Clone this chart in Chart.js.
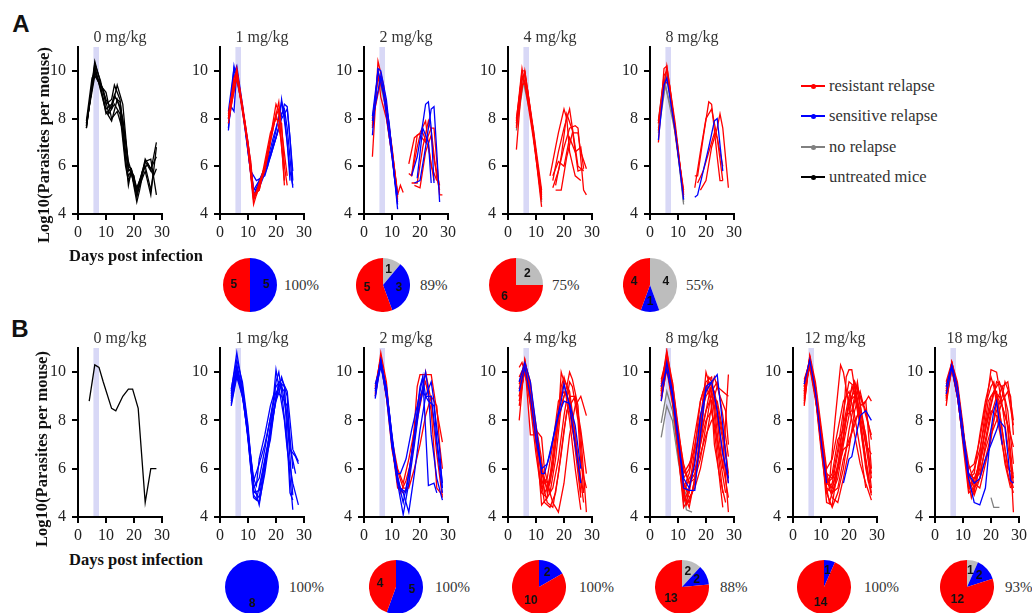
<!DOCTYPE html>
<html>
<head>
<meta charset="UTF-8">
<title>Parasite load and relapse by dose</title>
<script src="https://cdn.jsdelivr.net/npm/chart.js"></script>
<style>
  body { margin: 0; background: #fff; }
  #fig { position: relative; width: 1032px; height: 613px; overflow: hidden; font-family: 'Liberation Serif', serif; }
  #fig canvas { position: absolute; }
  .txt { position: absolute; white-space: nowrap; color: #333; font-size: 15px; line-height: 1; }
  .bold { font-weight: bold; color: #111; font-size: 16.5px; }
  .letter { font-family: 'Liberation Sans', Arial, sans-serif; font-weight: bold; font-size: 24px; color: #111; }
  .leg { position: absolute; left: 801px; height: 18px; display: flex; align-items: center; font-size: 16.5px; color: #333; white-space: nowrap; }
  .leg .ln { position: relative; width: 24px; height: 1.6px; margin-right: 4px; }
  .leg .dot { position: absolute; left: 10px; top: -1.7px; width: 5px; height: 5px; border-radius: 50%; }
</style>
</head>
<body>
<div id="fig"></div>
<script>
// ---- data (day, log10 parasites); null = below detection ----
const xTicks = [0, 10, 20, 30];
const yTicks = [4, 6, 8, 10];
const dosingWindow = [5.5, 7.5];
const doseLabelsA = ['0 mg/kg', '1 mg/kg', '2 mg/kg', '4 mg/kg', '8 mg/kg'];
const doseLabelsB = ['0 mg/kg', '1 mg/kg', '2 mg/kg', '4 mg/kg', '8 mg/kg', '12 mg/kg', '18 mg/kg'];
const legendLabels = ['resistant relapse', 'sensitive relapse', 'no relapse', 'untreated mice'];

// pie counts: [no relapse, sensitive relapse, resistant relapse]
const pieCountsA = [[0, 5, 5], [1, 3, 5], [2, 0, 6], [4, 1, 4]];
const relapsePctA = ['100%', '89%', '75%', '55%'];
const pieCountsB = [[0, 8, 0], [0, 5, 4], [0, 2, 10], [2, 2, 13], [0, 1, 14], [1, 2, 12]];
const relapsePctB = ['100%', '100%', '100%', '88%', '100%', '93%'];

// Row A
const A0_untreated = [
  [[3,7.6],[6,10.3],[8,9.6],[10,8.6],[12,8.8],[13,9.4],[15,8.8],[17,6.6],[18,5.8],[19,5.9],[21,5.0],[22,5.4],[24,6.2],[26,5.8],[28,7.0]],
  [[3,7.8],[6,10.0],[8,9.3],[10,8.4],[12,8.6],[13,9.0],[15,8.5],[17,6.2],[18,5.6],[19,5.8],[21,4.5],[22,5.0],[24,6.2],[26,6.3],[28,4.8]],
  [[3,7.7],[6,10.1],[7,9.7],[9,9.2],[11,8.2],[13,8.6],[15,8.2],[17,6.0],[18,5.4],[19,5.7],[21,4.9],[24,5.8],[26,4.8],[28,6.8]],
  [[3,7.9],[5,9.7],[6,9.9],[8,9.4],[10,9.1],[12,8.0],[14,8.3],[16,7.5],[18,5.2],[19,5.8],[21,4.7],[24,6.3],[26,5.9],[28,6.4]],
  [[3,7.6],[6,10.4],[8,9.5],[10,8.8],[12,8.4],[14,9.4],[16,8.6],[18,6.0],[19,5.9],[21,5.1],[24,6.0],[26,5.0],[27,5.8]],
  [[3,7.8],[6,9.8],[8,9.4],[10,8.2],[12,8.5],[13,8.9],[15,8.7],[17,7.0],[18,5.9],[20,5.6],[21,4.8],[23,5.8],[25,6.1],[27,5.6],[28,5.9]],
  [[3,7.7],[6,10.2],[8,9.2],[10,8.3],[12,7.9],[14,8.8],[16,8.0],[18,6.2],[19,5.8]]
];
const A1_resistant = [
  [[3,8.0],[5,9.7],[6,10.0],[8,8.6],[10,7.0],[11,6.0],[12,4.6],[13,4.9],[14,5.0],[16,6.0],[18,7.2],[20,8.6],[21,8.3],[23,5.4]],
  [[3,8.2],[5,9.5],[6,9.8],[8,8.3],[10,6.8],[12,4.4],[14,5.2],[16,5.8],[18,7.0],[20,8.2],[22,7.0],[23,5.2]],
  [[3,7.8],[6,9.9],[8,8.5],[10,6.9],[12,4.9],[13,4.8],[15,5.6],[17,6.4],[19,7.8],[21,8.4],[22,6.8],[24,5.2]],
  [[3,8.1],[6,10.1],[8,8.4],[11,6.2],[12,4.8],[14,5.0],[16,6.2],[18,7.4],[20,8.0],[22,7.8],[23,6.0]],
  [[3,8.0],[6,9.7],[9,7.8],[12,4.6],[14,5.3],[16,6.0],[19,7.6],[21,8.7],[22,7.5],[24,5.6]]
];
const A1_sensitive = [
  [[3,7.5],[5,10.2],[6,9.6],[8,8.5],[10,6.8],[12,5.0],[14,5.1],[17,6.0],[20,7.5],[22,8.7],[23,8.2],[25,5.8],[26,5.2]],
  [[3,7.8],[4,8.5],[5,8.3],[6,10.0],[8,8.4],[10,6.6],[12,4.8],[14,5.3],[16,5.8],[19,7.2],[21,8.0],[23,8.4],[24,7.6],[26,5.1]],
  [[3,8.3],[5,10.1],[7,9.2],[10,7.0],[12,5.0],[15,5.6],[18,6.4],[21,7.6],[22,8.8],[24,7.0],[25,5.4]],
  [[3,7.6],[5,9.8],[6,9.9],[9,7.6],[12,4.7],[14,5.4],[17,6.2],[20,7.2],[23,8.6],[24,8.5],[26,5.8]],
  [[3,8.0],[5,9.9],[6,10.2],[8,8.6],[11,5.8],[13,5.4],[16,5.6],[19,6.8],[22,8.0],[24,8.4],[25,7.2],[26,5.4]]
];
const A2_resistant = [
  [[3,6.4],[5,10.4],[7,9.4],[10,6.6],[12,4.8],[13,5.2],[14,4.9],[15,null],[17,5.6],[19,6.8],[20,7.3],[22,7.0],[24,7.6],[25,7.6],[27,4.8],[28,4.8]],
  [[3,7.6],[5,9.9],[6,8.9],[8,8.0],[10,6.5],[12,4.5],[14,null],[16,5.7],[17,5.6],[19,7.3],[21,7.4],[23,6.8],[25,5.4]],
  [[3,8.0],[5,9.7],[7,9.2],[10,6.8],[12,4.7],[15,null],[17,5.3],[19,5.3],[21,6.8],[23,7.9],[24,7.5],[26,5.5],[27,5.0]],
  [[3,7.9],[6,9.6],[8,8.6],[10,6.7],[12,4.9],[15,null],[18,5.2],[20,5.1],[22,6.6],[24,7.3],[25,6.3],[27,5.2]],
  [[3,7.7],[5,10.0],[7,9.0],[10,6.4],[12,4.6],[15,null],[16,6.1],[18,7.2],[20,7.4],[22,7.9],[24,6.0],[26,5.4]]
];
const A2_sensitive = [
  [[3,7.3],[5,10.1],[6,10.0],[8,8.8],[10,6.6],[12,4.2],[15,null],[17,5.6],[19,6.4],[21,7.8],[22,8.6],[23,8.7],[24,7.6],[25,5.3]],
  [[3,8.1],[5,10.0],[7,9.0],[10,6.4],[12,4.4],[15,null],[18,5.3],[20,5.4],[22,6.8],[24,8.4],[25,8.5],[26,6.6],[27,4.5]],
  [[3,7.9],[6,9.8],[9,7.8],[11,5.4],[12,4.8],[15,null],[19,5.5],[21,7.6],[23,7.0],[24,5.3]]
];
const A2_noRelapse = [
  [[3,7.8],[5,9.8],[8,8.4],[10,6.7],[12,4.8]]
];
const A3_resistant = [
  [[3,7.6],[5,10.0],[6,10.0],[9,7.6],[12,5.0],[14,null],[15,5.6],[17,6.8],[18,7.4],[20,8.4],[21,8.0],[22,6.6],[24,5.6],[26,5.4]],
  [[3,6.7],[5,9.6],[6,9.9],[9,7.4],[12,4.3],[14,null],[16,5.4],[18,6.6],[20,7.6],[22,8.4],[23,7.6],[25,6.0],[27,5.8]],
  [[3,8.0],[5,9.8],[7,9.2],[10,6.5],[12,4.8],[14,null],[16,5.1],[18,5.8],[20,6.8],[22,7.6],[24,7.7],[25,7.6],[27,5.0],[28,4.8]],
  [[3,7.8],[5,9.4],[6,9.5],[9,7.2],[12,4.6],[14,null],[17,5.0],[19,5.0],[21,6.4],[23,7.4],[25,7.4],[26,6.6],[28,5.9]],
  [[3,7.9],[5,10.1],[8,8.2],[11,5.6],[12,4.9],[14,null],[16,5.6],[18,6.2],[20,6.0],[22,7.2],[24,6.6],[26,6.8],[27,5.9]],
  [[3,7.7],[6,10.0],[9,7.5],[12,4.7],[14,null],[17,5.2],[19,6.4],[21,8.2],[23,7.5],[25,5.8],[27,5.9]]
];
const A3_noRelapse = [
  [[3,7.8],[5,9.8],[9,7.6],[12,4.5]],
  [[3,7.5],[6,9.9],[9,7.4],[12,4.6]]
];
const A4_resistant = [
  [[3,7.0],[5,10.1],[6,10.2],[9,7.6],[12,4.8],[14,null],[16,5.6],[17,5.6],[19,7.2],[21,8.7],[22,8.6],[24,6.4],[25,5.4],[26,5.4]],
  [[3,7.9],[5,9.8],[6,10.0],[9,7.4],[12,4.9],[14,null],[16,5.1],[18,6.6],[20,8.0],[22,8.4],[24,7.2],[26,5.4]],
  [[3,7.5],[6,10.2],[9,7.8],[12,4.7],[14,null],[18,5.0],[20,5.4],[22,6.8],[24,7.6],[25,8.2],[26,7.6],[28,5.1]],
  [[3,7.8],[5,9.6],[7,9.4],[10,6.6],[12,5.0],[14,null],[17,5.3],[19,5.8],[21,6.6],[23,7.4],[24,7.2],[26,6.0]]
];
const A4_sensitive = [
  [[3,7.1],[5,9.4],[6,9.7],[9,7.5],[12,4.6],[14,null],[16,4.7],[17,4.8],[19,5.8],[21,6.8],[23,7.9],[24,8.0],[26,5.8]]
];
const A4_noRelapse = [
  [[3,7.6],[6,9.9],[9,7.6],[12,4.4]],
  [[3,7.8],[5,9.6],[8,8.2],[11,5.6],[12,4.6]],
  [[3,7.4],[6,9.8],[10,6.8],[12,4.5]],
  [[3,7.9],[5,9.7],[9,7.4],[12,4.8]]
];

// Row B
const B0_untreated = [
  [[4,8.8],[6,10.3],[7.5,10.2],[9,9.6],[12,8.5],[13.5,8.4],[16,9.0],[18,9.3],[19.5,9.3],[21.5,8.5],[24,4.6],[26,6.0],[28,6.0]]
];
const B1_sensitive = [
  [[4,9.2],[6,10.8],[8,9.4],[10,7.6],[12,5.4],[14,4.5],[16,6.0],[18,7.8],[20,9.6],[21,10.0],[22,9.2],[24,7.0],[26,4.3]],
  [[4,8.6],[6,9.8],[8,9.0],[10,7.4],[12,5.6],[13,5.3],[14,6.4],[16,7.4],[18,8.6],[20,9.4],[22,9.7],[24,9.2],[26,6.8],[28,6.3]],
  [[4,9.0],[6,10.2],[8,9.2],[10,7.2],[12,4.9],[14,4.6],[16,5.8],[18,7.4],[20,8.9],[21,9.6],[23,9.4],[25,5.0],[26,4.7]],
  [[4,8.8],[6,10.0],[9,8.6],[11,6.0],[12,5.2],[14,5.6],[16,6.8],[19,8.8],[20,10.1],[21,9.4],[23,8.0],[24,6.8],[26,5.4],[28,4.5]],
  [[4,9.3],[6,10.5],[8,9.6],[10,7.8],[12,5.0],[14,5.1],[17,6.9],[19,8.4],[22,9.8],[24,9.0],[25,6.8],[27,6.5],[28,6.2]],
  [[4,8.7],[6,9.9],[8,9.1],[11,6.4],[12,5.5],[14,6.2],[16,7.0],[18,8.1],[20,9.2],[22,9.0],[24,8.6],[26,6.0]],
  [[4,9.1],[6,10.3],[8,9.3],[10,7.5],[12,4.8],[13,4.7],[15,5.8],[18,7.6],[20,8.8],[22,9.5],[24,8.0],[26,4.9]],
  [[4,8.9],[6,10.1],[9,8.4],[12,5.1],[14,4.8],[16,6.2],[18,7.2],[20,9.0],[21,9.5],[23,9.2],[25,6.9],[27,5.8]]
];
const B2_resistant = [
  [[4,9.1],[6,10.8],[8,9.6],[10,7.0],[12,5.2],[14,5.0],[16,5.3],[18,7.8],[19,9.4],[20,9.9],[22,9.9],[24,9.9],[26,8.4],[28,7.1]],
  [[4,9.3],[6,10.6],[8,9.0],[10,6.8],[12,5.6],[13,5.0],[15,5.5],[17,6.4],[19,8.0],[21,9.2],[22,10.0],[24,8.8],[26,6.6],[28,4.8]],
  [[4,9.0],[6,10.4],[9,8.2],[11,6.4],[12,5.9],[14,5.2],[16,5.2],[18,6.0],[20,7.0],[22,8.2],[24,9.0],[26,8.6],[27,7.0],[28,6.0]],
  [[4,9.4],[6,10.6],[8,9.4],[10,7.2],[12,6.0],[14,5.4],[16,6.4],[18,7.6],[20,9.0],[22,9.6],[24,8.4],[26,5.2],[28,4.9]]
];
const B2_sensitive = [
  [[4,9.2],[6,10.5],[8,9.2],[10,7.0],[12,5.4],[14,4.1],[16,5.4],[18,7.0],[20,8.8],[22,10.0],[23,9.2],[24,7.4],[26,5.6],[28,4.7]],
  [[4,8.9],[6,10.4],[8,9.0],[10,6.9],[12,5.8],[13,5.8],[15,6.4],[17,7.6],[19,8.6],[21,9.8],[22,7.6],[23,5.3],[25,5.4],[26,5.0]],
  [[4,9.5],[6,10.3],[9,8.4],[11,6.2],[12,5.4],[14,5.0],[16,4.2],[18,5.8],[20,7.6],[22,9.0],[24,9.6],[25,8.8],[26,7.2],[28,5.4]],
  [[4,9.0],[6,10.5],[8,9.3],[10,7.4],[12,5.6],[14,4.6],[16,5.8],[18,7.4],[20,9.4],[21,9.8],[22,9.0],[24,9.0],[26,7.0],[28,5.0]],
  [[4,9.3],[6,10.2],[8,9.4],[11,6.2],[13,5.2],[15,5.0],[17,6.6],[19,8.2],[21,9.2],[23,8.8],[25,8.6],[27,6.8],[28,5.2]]
];
const B3_resistant = [
  [[4,8.0],[6,10.5],[8,9.2],[10,7.4],[12,6.2],[14,5.0],[16,6.0],[18,8.0],[19,10.0],[20,9.6],[22,8.0],[24,6.0],[26,4.3]],
  [[4,9.0],[6,10.4],[8,7.4],[10,7.4],[12,4.5],[14,4.8],[16,6.6],[18,8.4],[20,9.7],[22,9.2],[24,7.4],[26,5.0]],
  [[4,9.6],[6,10.3],[8,9.0],[10,7.6],[12,7.3],[13,6.0],[15,5.0],[17,6.4],[19,8.6],[21,9.4],[22,10.0],[23,9.7],[25,8.6],[27,5.0]],
  [[4,8.6],[6,10.2],[9,8.4],[11,6.8],[12,5.6],[14,4.6],[16,4.4],[18,5.8],[20,7.6],[22,9.0],[24,9.0],[26,7.4],[28,4.2]],
  [[4,10.2],[5,10.4],[6,10.0],[8,8.8],[10,7.2],[12,5.8],[14,5.4],[16,4.6],[18,4.2],[20,5.4],[22,7.4],[24,8.6],[26,9.0],[28,8.2]],
  [[4,9.3],[6,10.5],[8,9.4],[10,7.8],[12,6.4],[13,5.0],[15,5.4],[17,7.2],[19,9.4],[20,9.8],[22,9.0],[24,6.8],[26,4.8]],
  [[4,8.8],[6,10.1],[9,8.0],[11,6.0],[12,5.2],[14,5.6],[16,7.0],[18,8.8],[20,9.2],[22,8.8],[24,7.4],[26,5.6],[27,5.0]],
  [[4,9.8],[6,10.3],[8,8.6],[10,6.6],[12,5.0],[14,4.8],[16,5.2],[18,6.4],[20,8.2],[22,9.6],[23,9.4],[25,8.0],[26,6.2],[28,5.2]],
  [[4,9.0],[6,10.0],[8,9.0],[11,7.0],[12,5.4],[13,4.6],[15,4.4],[17,5.0],[19,6.6],[21,8.4],[23,8.8],[24,9.0],[26,7.6],[28,5.8]],
  [[4,9.5],[6,10.4],[8,9.6],[10,7.4],[12,5.8],[14,5.2],[16,6.2],[18,8.0],[20,9.0],[21,9.2],[23,7.6],[25,6.4],[27,4.6]]
];
const B3_sensitive = [
  [[4,9.6],[6,10.4],[8,9.6],[10,7.8],[12,5.8],[13,5.8],[15,6.6],[17,7.8],[19,8.8],[20,9.5],[22,8.6],[24,7.0],[26,5.4]],
  [[4,9.2],[6,10.2],[8,9.0],[10,7.2],[12,6.0],[14,6.2],[16,7.2],[18,8.2],[20,8.8],[22,8.7],[24,7.8],[26,6.0]]
];
const B4_resistant = [
  [[4,9.4],[6,10.9],[8,9.4],[10,7.4],[12,5.0],[14,4.4],[16,5.6],[18,7.6],[20,10.0],[21,9.6],[23,8.6],[25,6.4],[27,5.0]],
  [[4,9.0],[6,10.6],[8,9.2],[10,7.0],[12,4.6],[14,5.2],[16,6.8],[18,8.8],[20,9.6],[22,9.8],[24,8.0],[26,6.0],[28,9.9]],
  [[4,9.6],[6,10.4],[9,8.6],[11,6.4],[12,5.6],[14,6.0],[16,7.4],[18,8.8],[19,9.2],[21,9.4],[23,7.6],[25,5.4],[26,4.4]],
  [[4,9.2],[6,10.7],[8,9.0],[10,6.8],[12,4.4],[13,4.6],[15,5.8],[17,7.0],[19,8.6],[21,9.8],[22,9.6],[24,8.4],[26,7.2],[28,4.2]],
  [[4,8.8],[6,10.2],[8,9.6],[10,7.8],[12,6.0],[14,5.4],[16,5.6],[18,6.4],[20,7.8],[22,9.2],[24,9.6],[26,8.2],[28,6.5]],
  [[4,9.5],[6,10.5],[8,9.2],[11,6.6],[12,5.4],[14,4.8],[16,5.2],[18,6.0],[20,7.2],[22,8.6],[24,9.4],[26,9.2],[28,9.0]],
  [[4,9.1],[6,10.3],[8,8.8],[10,7.0],[12,5.2],[14,5.8],[16,7.0],[18,8.2],[20,9.0],[22,9.4],[24,7.0],[26,5.0]],
  [[4,9.3],[6,10.8],[8,9.6],[10,7.6],[12,5.8],[14,6.2],[16,6.8],[18,7.4],[20,8.4],[22,9.0],[24,8.8],[26,7.6],[28,5.8]],
  [[4,8.9],[6,10.1],[9,8.0],[11,5.6],[12,4.8],[14,4.6],[16,5.4],[18,7.2],[20,9.4],[22,8.8],[23,7.0],[25,5.6],[27,4.6]],
  [[4,9.7],[6,10.6],[8,9.4],[10,7.2],[12,5.4],[14,5.0],[16,6.4],[18,8.0],[19,9.0],[21,9.6],[23,9.2],[25,8.0],[27,6.8],[28,5.6]],
  [[4,9.0],[6,10.4],[8,9.0],[10,6.8],[12,5.0],[14,5.6],[16,6.0],[18,6.6],[20,7.4],[22,8.0],[24,8.2],[26,6.6],[28,5.4]],
  [[4,9.4],[6,10.2],[8,9.2],[10,7.6],[12,6.2],[14,5.4],[16,5.8],[18,7.0],[20,8.0],[22,8.4],[24,7.2],[26,6.2],[28,4.8]],
  [[4,9.2],[6,10.6],[8,9.0],[10,7.2],[12,5.2],[13,4.5],[15,5.0],[17,6.2],[19,7.8],[21,9.0],[23,9.8],[25,9.0],[27,8.4],[28,7.0]]
];
const B4_sensitive = [
  [[4,8.8],[6,10.4],[8,9.2],[10,7.4],[12,5.2],[14,5.1],[16,5.1],[18,7.4],[20,9.4],[22,9.6],[24,9.9],[26,7.8],[28,5.4]],
  [[4,9.4],[6,10.1],[8,9.0],[10,7.2],[12,5.6],[14,5.2],[16,6.2],[18,8.2],[20,9.2],[22,9.6],[24,8.4],[26,6.6],[28,5.6]]
];
const B4_noRelapse = [
  [[4,7.3],[6,8.6],[8,8.0],[10,6.4],[12,5.0],[13,4.3],[15,4.2]],
  [[4,7.9],[6,9.2],[8,8.4],[10,6.6],[12,5.2],[14,4.6]]
];
const B5_resistant = [
  [[4,8.6],[6,10.6],[8,9.2],[10,7.4],[12,5.6],[13,5.4],[15,8.0],[17,10.3],[18,10.0],[20,8.6],[22,7.4],[24,6.2],[26,5.4],[28,4.7]],
  [[4,9.6],[6,10.5],[8,9.0],[10,7.2],[12,4.6],[14,4.5],[16,6.0],[18,8.0],[19,9.8],[20,10.1],[21,10.1],[23,8.6],[25,7.0],[27,5.6]],
  [[4,9.2],[6,10.4],[8,9.4],[10,7.6],[12,5.8],[14,5.6],[16,6.8],[18,8.4],[20,9.6],[22,9.4],[24,8.0],[26,6.4],[28,5.0]],
  [[4,8.8],[6,10.6],[9,8.4],[11,6.4],[12,5.2],[14,5.0],[16,5.6],[18,7.0],[20,8.2],[22,9.6],[24,9.0],[26,8.4],[28,7.2]],
  [[4,9.4],[6,10.3],[8,9.0],[10,7.0],[12,5.0],[14,4.4],[16,5.0],[18,6.0],[20,7.6],[22,8.8],[23,9.2],[25,8.0],[27,6.6],[28,5.8]],
  [[4,9.0],[6,10.7],[8,9.6],[10,7.8],[12,6.0],[14,6.4],[16,7.6],[18,8.8],[20,9.2],[22,8.2],[24,6.8],[26,5.2]],
  [[4,9.7],[6,10.4],[8,9.2],[10,7.0],[12,5.4],[14,5.8],[16,7.2],[18,7.6],[20,8.6],[21,9.0],[23,9.4],[25,8.6],[27,9.0],[28,8.8]],
  [[4,9.1],[6,10.5],[8,9.0],[10,7.2],[12,5.6],[14,4.8],[16,4.6],[18,5.6],[20,6.8],[22,8.4],[24,9.2],[26,8.2],[28,7.4]],
  [[4,9.3],[6,10.2],[9,8.2],[11,6.2],[12,5.4],[14,5.2],[16,6.2],[18,7.4],[20,8.8],[22,9.0],[24,7.8],[26,6.0],[28,4.9]],
  [[4,8.9],[6,10.6],[8,9.4],[10,7.4],[12,5.2],[13,4.6],[15,5.4],[17,6.6],[19,8.0],[21,9.4],[23,8.8],[25,7.2],[27,5.4]],
  [[4,9.5],[6,10.4],[8,9.2],[10,7.6],[12,5.8],[14,5.0],[16,5.2],[18,6.4],[20,7.2],[22,7.8],[24,8.6],[26,8.8],[28,6.0]],
  [[4,9.2],[6,10.3],[8,9.0],[10,6.8],[12,5.0],[14,5.4],[16,6.6],[18,7.8],[20,9.0],[22,9.6],[24,8.2],[26,7.0],[28,6.6]],
  [[4,8.7],[6,10.5],[8,9.2],[10,7.2],[12,5.4],[14,5.6],[16,6.0],[18,6.8],[20,7.0],[22,8.0],[24,8.4],[26,7.4],[28,5.6]],
  [[4,9.4],[6,10.6],[8,9.4],[10,7.4],[12,5.6],[14,5.2],[16,6.0],[18,7.2],[19,8.2],[21,8.4],[23,9.6],[25,7.8],[27,6.2],[28,5.2]]
];
const B5_sensitive = [
  [[4,9.5],[6,10.5],[8,9.2],[10,7.2],[12,5.4],[14,null],[18,5.4],[20,6.4],[21,6.5],[24,8.2],[26,8.4],[27,8.2],[28,8.0]]
];
const B6_resistant = [
  [[4,8.6],[6,10.4],[8,9.4],[10,7.6],[12,5.6],[14,5.0],[16,6.6],[18,8.4],[20,10.1],[22,10.0],[24,8.6],[26,7.0],[28,5.4]],
  [[4,9.2],[6,10.3],[8,9.2],[10,7.4],[12,5.2],[14,5.4],[16,6.4],[18,7.6],[20,8.6],[22,9.6],[24,9.4],[26,9.6],[28,8.0]],
  [[4,9.0],[6,10.2],[8,9.0],[10,7.2],[12,6.0],[14,6.2],[16,7.2],[18,8.6],[20,9.4],[21,9.6],[23,8.4],[25,6.8],[27,5.6],[28,5.2]],
  [[4,9.6],[6,10.4],[8,9.6],[10,7.8],[12,5.4],[13,4.8],[15,5.6],[17,7.0],[19,8.2],[21,9.2],[23,9.6],[25,8.8],[27,6.4],[28,4.2]],
  [[4,8.8],[6,10.1],[9,8.4],[11,6.4],[12,5.8],[14,5.6],[16,5.8],[18,6.8],[20,7.6],[22,8.4],[24,9.0],[25,9.6],[27,9.0],[28,7.4]],
  [[4,9.4],[6,10.3],[8,9.2],[10,7.0],[12,5.0],[14,5.2],[16,6.0],[18,7.8],[20,9.0],[22,9.2],[24,7.6],[26,6.0],[28,5.8]],
  [[4,9.1],[6,10.2],[8,9.0],[10,7.4],[12,5.6],[14,6.0],[16,6.8],[18,8.0],[19,8.8],[21,9.2],[23,9.0],[25,8.2],[27,7.4],[28,6.9]],
  [[4,9.3],[6,10.4],[8,9.4],[10,7.6],[12,6.2],[14,5.4],[16,5.2],[18,6.2],[20,7.2],[22,8.8],[24,9.4],[26,8.4],[28,6.2]],
  [[4,8.9],[6,10.1],[8,9.2],[11,6.6],[12,5.4],[14,4.9],[16,5.6],[18,7.0],[20,8.2],[22,9.0],[24,8.6],[26,7.8],[28,5.6]],
  [[4,9.5],[6,10.3],[8,9.0],[10,7.2],[12,5.6],[14,5.8],[16,7.4],[18,8.8],[20,9.8],[21,9.4],[23,8.0],[25,6.2],[27,5.2]],
  [[4,9.2],[6,10.2],[8,9.4],[10,7.6],[12,5.8],[14,5.2],[16,5.6],[18,6.4],[20,7.4],[22,8.0],[24,8.8],[26,9.2],[28,7.8]],
  [[4,9.0],[6,10.4],[8,9.2],[10,7.4],[12,5.2],[14,5.6],[16,6.2],[18,7.2],[20,8.4],[22,8.2],[24,7.0],[26,5.8],[28,5.0]]
];
const B6_sensitive = [
  [[4,9.1],[6,10.2],[8,9.0],[10,7.2],[12,5.6],[14,4.6],[16,4.5],[18,5.2],[20,7.6],[21,8.4],[22,8.8],[24,7.0]],
  [[4,9.4],[6,10.3],[8,9.4],[10,7.6],[12,5.8],[14,5.4],[16,5.6],[18,6.4],[20,7.0],[22,7.6],[23,8.0],[25,7.7],[27,5.5],[28,5.4]]
];
const B6_noRelapse = [
  [[4,8.9],[6,10.3],[8,9.2],[10,7.4],[12,5.4],[14,null],[20,4.8],[21,4.4],[23,4.4]]
];

// ---- colours and layout ----
const RED = '#ff0000', BLUE = '#0000ff', GREY = '#808080', BLACK = '#000000', PIE_GREY = '#bdbdbd';
const legendColors = [RED, BLUE, GREY, BLACK];
const SERIF = "'Liberation Serif', 'Times New Roman', serif";
Chart.defaults.font.family = SERIF;

const panelsA = [
  [[A0_untreated, BLACK]],
  [[A1_resistant, RED], [A1_sensitive, BLUE]],
  [[A2_sensitive, BLUE], [A2_resistant, RED], [A2_noRelapse, GREY]],
  [[A3_resistant, RED], [A3_noRelapse, GREY]],
  [[A4_sensitive, BLUE], [A4_resistant, RED], [A4_noRelapse, GREY]]
];
const panelsB = [
  [[B0_untreated, BLACK]],
  [[B1_sensitive, BLUE]],
  [[B2_sensitive, BLUE], [B2_resistant, RED]],
  [[B3_sensitive, BLUE], [B3_resistant, RED]],
  [[B4_sensitive, BLUE], [B4_resistant, RED], [B4_noRelapse, GREY]],
  [[B5_sensitive, BLUE], [B5_resistant, RED]],
  [[B6_sensitive, BLUE], [B6_resistant, RED], [B6_noRelapse, GREY]]
];
const axisLeft = [78, 220, 364, 508, 650, 793, 935];
const rowA = { top: 47, plotH: 167 };
const rowB = { top: 348, plotH: 169 };
const pieA = { cx: [250, 383, 516, 650], cy: 285, pctX: [284, 420, 552, 686] };
const pieB = { cx: [252, 396, 539, 682, 824, 967], cy: 587, pctX: [289, 435, 579, 720, 864, 1005] };

const fig = document.getElementById('fig');

function addText(text, x, y, cls, rotate) {
  const d = document.createElement('div');
  d.className = 'txt ' + (cls || '');
  d.textContent = text;
  d.style.left = x + 'px';
  d.style.top = y + 'px';
  d.style.transform = rotate ? 'translate(-50%,-50%) rotate(-90deg)' : 'translate(-50%,-50%)';
  fig.appendChild(d);
  return d;
}

const bandPlugin = {
  id: 'dosingBand',
  beforeDatasetsDraw(chart) {
    const { ctx, chartArea: a, scales: { x } } = chart;
    const l = x.getPixelForValue(dosingWindow[0]);
    const r = x.getPixelForValue(dosingWindow[1]);
    ctx.save();
    ctx.fillStyle = 'rgba(190, 190, 240, 0.6)';
    ctx.fillRect(l, a.top, r - l, a.bottom - a.top - 1);
    ctx.restore();
  }
};

const titlePlugin = {
  id: 'panelTitle',
  afterDraw(chart, args, opts) {
    const { ctx, chartArea: a } = chart;
    ctx.save();
    ctx.font = '16px ' + SERIF;
    ctx.fillStyle = '#333';
    ctx.textAlign = 'center';
    ctx.textBaseline = 'alphabetic';
    ctx.fillText(opts.text, (a.left + a.right) / 2, a.top - 5);
    ctx.restore();
  }
};

function axisOpts(min, max, ticks, fit) {
  return {
    type: 'linear', min, max,
    afterBuildTicks: s => { s.ticks = ticks.map(v => ({ value: v })); },
    afterFit: fit,
    grid: { drawOnChartArea: false, drawTicks: true, tickLength: 6, color: '#000', lineWidth: 2 },
    border: { color: '#000', width: 2 },
    ticks: { color: '#222', font: { size: 16, family: SERIF }, padding: 3, maxRotation: 0, autoSkip: false }
  };
}

function linePanel(x0, row, title, groups) {
  const yW = 44, padT = 22, padR = 14, xH = 30, plotW = 84;
  const W = yW + plotW + padR, H = padT + row.plotH + xH + 2;
  const c = document.createElement('canvas');
  c.width = W; c.height = H;
  c.style.width = W + 'px'; c.style.height = H + 'px';
  c.style.left = (x0 - yW) + 'px';
  c.style.top = (row.top - padT) + 'px';
  fig.appendChild(c);

  const datasets = [];
  groups.forEach(([list, color]) => {
    list.forEach(s => datasets.push({
      data: s.map(([x, y]) => ({ x, y })),
      borderColor: color, borderWidth: 1.3, pointRadius: 0,
      fill: false, tension: 0, spanGaps: false
    }));
  });

  const xo = axisOpts(0, 30, xTicks, s => { s.height = xH; });
  const yo = axisOpts(4, 11, yTicks, s => { s.width = yW; });
  yo.ticks.padding = 6;

  new Chart(c, {
    type: 'line',
    data: { datasets },
    options: {
      responsive: false, animation: false, events: [],
      layout: { padding: { top: padT, right: padR, left: 0, bottom: 2 } },
      plugins: { legend: { display: false }, tooltip: { enabled: false }, panelTitle: { text: title } },
      scales: { x: xo, y: yo }
    },
    plugins: [bandPlugin, titlePlugin]
  });
}

const countPlugin = {
  id: 'sliceCounts',
  afterDatasetsDraw(chart) {
    const { ctx } = chart;
    const vals = chart.data.datasets[0].data;
    ctx.save();
    ctx.font = "bold 12px 'Liberation Sans', Arial, sans-serif";
    ctx.fillStyle = '#111';
    ctx.textAlign = 'center';
    ctx.textBaseline = 'middle';
    chart.getDatasetMeta(0).data.forEach((arc, i) => {
      if (!vals[i]) return;
      const mid = (arc.startAngle + arc.endAngle) / 2;
      const r = arc.outerRadius * 0.6;
      ctx.fillText(String(vals[i]), arc.x + Math.cos(mid) * r, arc.y + Math.sin(mid) * r);
    });
    ctx.restore();
  }
};

function piePanel(cx, cy, counts) {
  const S = 54;
  const c = document.createElement('canvas');
  c.width = S; c.height = S;
  c.style.width = S + 'px'; c.style.height = S + 'px';
  c.style.left = (cx - S / 2) + 'px';
  c.style.top = (cy - S / 2) + 'px';
  fig.appendChild(c);
  new Chart(c, {
    type: 'pie',
    data: { labels: ['no relapse', 'sensitive relapse', 'resistant relapse'],
            datasets: [{ data: counts, backgroundColor: [PIE_GREY, BLUE, RED], borderWidth: 0 }] },
    options: {
      responsive: false, animation: false, events: [],
      layout: { padding: 0 },
      plugins: { legend: { display: false }, tooltip: { enabled: false } }
    },
    plugins: [countPlugin]
  });
}

// ---- build figure ----
panelsA.forEach((groups, i) => linePanel(axisLeft[i], rowA, doseLabelsA[i], groups));
panelsB.forEach((groups, i) => linePanel(axisLeft[i], rowB, doseLabelsB[i], groups));

pieCountsA.forEach((cnt, i) => {
  piePanel(pieA.cx[i], pieA.cy, cnt);
  const t = addText(relapsePctA[i], pieA.pctX[i], pieA.cy, '');
  t.style.transform = 'translate(0,-50%)';
});
pieCountsB.forEach((cnt, i) => {
  piePanel(pieB.cx[i], pieB.cy, cnt);
  const t = addText(relapsePctB[i], pieB.pctX[i], pieB.cy, '');
  t.style.transform = 'translate(0,-50%)';
});

addText('A', 21, 24, 'letter');
addText('B', 20, 329, 'letter');
addText('Log10(Parasites per mouse)', 44, 145, 'bold', true);
addText('Log10(Parasites per mouse)', 42, 449, 'bold', true);
addText('Days post infection', 136, 256, 'bold');
addText('Days post infection', 136, 560, 'bold');

const legendRows = [86, 116, 147, 177];
legendLabels.forEach((lab, i) => {
  const row = document.createElement('div');
  row.className = 'leg';
  row.style.top = (legendRows[i] - 9) + 'px';
  const ln = document.createElement('span');
  ln.className = 'ln';
  ln.style.background = legendColors[i];
  const dot = document.createElement('span');
  dot.className = 'dot';
  dot.style.background = legendColors[i];
  ln.appendChild(dot);
  row.appendChild(ln);
  row.appendChild(document.createTextNode(lab));
  fig.appendChild(row);
});
</script>
</body>
</html>
